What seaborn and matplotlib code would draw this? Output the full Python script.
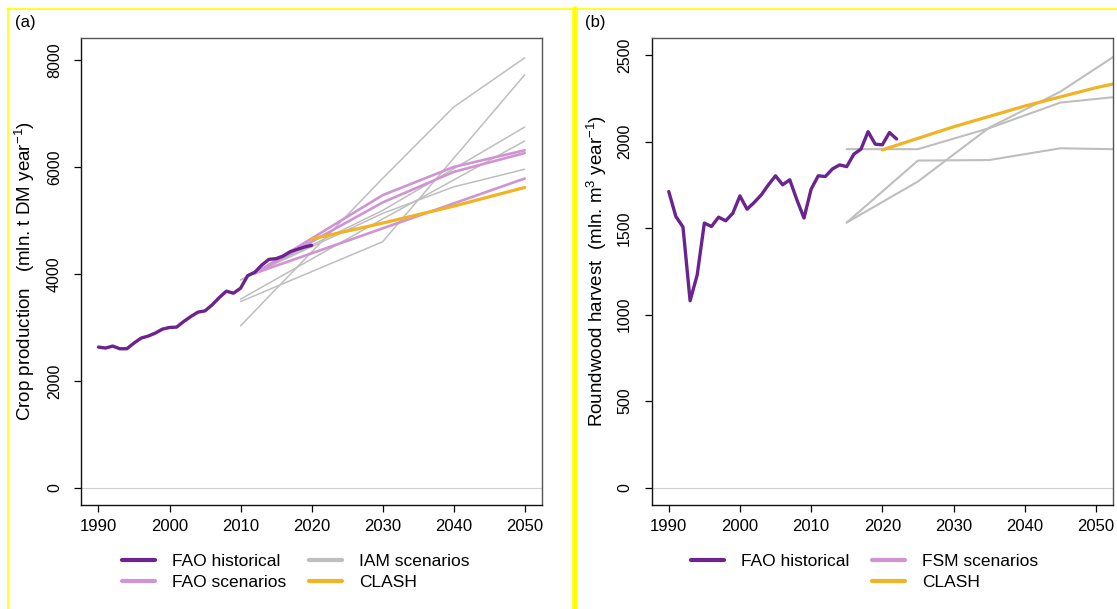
import numpy as np
import pandas as pd
import matplotlib
matplotlib.use('Agg')
import matplotlib.pyplot as plt
import seaborn as sns
from matplotlib.lines import Line2D

# --- data ---
hist_years_a = list(range(1990, 2021))
hist_crop = [2632, 2614, 2651, 2601, 2601, 2707, 2800, 2838, 2894, 2968,
             2999, 3006, 3111, 3204, 3286, 3310, 3422, 3559, 3678, 3641,
             3734, 3969, 4033, 4169, 4275, 4287, 4337, 4418, 4462, 4505, 4537]

iam_years = [2010, 2020, 2030, 2040, 2050]
iam_a = [3030, 4410, 5790, 7125, 8047]
iam_b = [3484, 4044, 4604, 6166, 7729]
iam_c = [3889, 4540, 5190, 5970, 6751]
iam_d = [3529, 4280, 5030, 5760, 6490]
iam_e = [3889, 4510, 5134, 5631, 5961]

fao_scen_years = [2012, 2020, 2030, 2040, 2050]
fao_scen_1 = [4014, 4664, 5476, 6004, 6316]
fao_scen_2 = [4014, 4603, 5340, 5911, 6265]
fao_scen_3 = [4014, 4387, 4854, 5321, 5788]

clash_years_a = [2020, 2030, 2040, 2050]
clash_crop = [4654, 4953, 5270, 5620]

hist_years_b = list(range(1990, 2023))
hist_wood = [1711, 1567, 1506, 1080, 1230, 1529, 1509, 1563, 1542, 1586,
             1686, 1609, 1648, 1692, 1750, 1802, 1750, 1779, 1663, 1558,
             1725, 1802, 1798, 1842, 1865, 1855, 1927, 1956, 2057, 1985,
             1981, 2052, 2015]

fsm_years = [2015, 2025, 2035, 2045, 2055]
fsm_1 = [1956, 1956, 2077, 2225, 2267]
fsm_2 = [1532, 1890, 1893, 1961, 1954]
fsm_3 = [1532, 1769, 2080, 2288, 2558]

clash_years_b = [2020, 2030, 2040, 2050, 2060]
clash_wood = [1952, 2085, 2205, 2311, 2400]

PURPLE = '#6B2390'
PINK = '#D094D4'
GREY = '#BEBEBE'
ORANGE = '#F0B323'
YELLOW = '#FFFF00'


def long_df(years, series):
    rows = []
    for name, vals in series.items():
        for y, v in zip(years, vals):
            rows.append({'year': y, 'value': v, 'scen': name})
    return pd.DataFrame(rows)


sns.set_style('ticks')
plt.rcParams['font.family'] = ['Liberation Sans', 'DejaVu Sans']
plt.rcParams['mathtext.fontset'] = 'custom'
plt.rcParams['mathtext.rm'] = 'Liberation Sans'
plt.rcParams['mathtext.it'] = 'Liberation Sans:italic'
plt.rcParams['text.color'] = 'black'
plt.rcParams['axes.labelcolor'] = 'black'
plt.rcParams['xtick.color'] = 'black'
plt.rcParams['ytick.color'] = 'black'

fig = plt.figure(figsize=(11.17, 6.09), dpi=100)
ax1 = fig.add_axes([0.0729, 0.1708, 0.4121, 0.7673])
ax2 = fig.add_axes([0.5834, 0.1708, 0.4130, 0.7673])

# --- panel (a) ---
ax1.axhline(0, color='#D0D0D0', lw=0.8, zorder=1)
df_iam = long_df(iam_years, {'a': iam_a, 'b': iam_b, 'c': iam_c, 'd': iam_d, 'e': iam_e})
sns.lineplot(data=df_iam, x='year', y='value', units='scen', estimator=None,
             color=GREY, lw=1.1, ax=ax1, legend=False)
df_fao = long_df(fao_scen_years, {'1': fao_scen_1, '2': fao_scen_2, '3': fao_scen_3})
sns.lineplot(data=df_fao, x='year', y='value', units='scen', estimator=None,
             color=PINK, lw=1.9, ax=ax1, legend=False)
sns.lineplot(x=clash_years_a, y=clash_crop, color=ORANGE, lw=2.3, ax=ax1)
sns.lineplot(x=hist_years_a, y=hist_crop, color=PURPLE, lw=2.4, ax=ax1)
ax1.set_ylim(-324, 8424)
ax1.set_yticks([0, 2000, 4000, 6000, 8000])
ax1.set_ylabel('Crop production   (mln. t DM year$^{-1}$)', fontsize=13.5)
ax1.yaxis.set_label_coords(-0.097, 0.5)

# --- panel (b) ---
ax2.axhline(0, color='#D0D0D0', lw=0.8, zorder=1)
df_fsm = long_df(fsm_years, {'1': fsm_1, '2': fsm_2, '3': fsm_3})
sns.lineplot(data=df_fsm, x='year', y='value', units='scen', estimator=None,
             color=GREY, lw=1.5, ax=ax2, legend=False)
sns.lineplot(x=clash_years_b, y=clash_wood, color=ORANGE, lw=2.3, ax=ax2)
sns.lineplot(x=hist_years_b, y=hist_wood, color=PURPLE, lw=2.4, ax=ax2)
ax2.set_ylim(-100, 2600)
ax2.set_yticks([0, 500, 1000, 1500, 2000, 2500])
ax2.set_ylabel('Roundwood harvest  (mln. m$^3$ year$^{-1}$)', fontsize=13.5)
ax2.yaxis.set_label_coords(-0.092, 0.5)

for ax in (ax1, ax2):
    ax.set_xlim(1987.6, 2052.4)
    ax.set_xticks(range(1990, 2051, 10))
    ax.set_xlabel('')
    ax.tick_params(axis='x', labelsize=12, length=5, width=0.9, pad=5)
    ax.tick_params(axis='y', labelsize=11.5, length=5, width=0.9, pad=9, labelrotation=90)
    plt.setp(ax.get_yticklabels(), va='center')
    for side in ('left', 'bottom'):
        ax.spines[side].set_color('#111111')
        ax.spines[side].set_linewidth(1.0)
    for side in ('top', 'right'):
        ax.spines[side].set_color('#555555')
        ax.spines[side].set_linewidth(1.0)

# --- legends ---
def handle(c):
    return Line2D([], [], color=c, lw=3)

blank = Line2D([], [], color='none')
leg_kw = dict(frameon=False, ncol=2, fontsize=12.5, handlelength=1.9, handletextpad=0.98,
              labelspacing=0.35, borderpad=0, borderaxespad=0, loc='upper left',
              columnspacing=1.3, bbox_transform=fig.transFigure)
fig.legend([handle(PURPLE), handle(PINK), handle(GREY), handle(ORANGE)],
           ['FAO historical', 'FAO scenarios', 'IAM scenarios', 'CLASH'],
           bbox_to_anchor=(122 / 1117, 1 - 554 / 609), **leg_kw)
fig.legend([handle(PURPLE), blank, handle(PINK), handle(ORANGE)],
           ['FAO historical', ' ', 'FSM scenarios', 'CLASH'],
           bbox_to_anchor=(691 / 1117, 1 - 554 / 609), **leg_kw)

# --- panel letters and yellow frame ---
fig.text(15 / 1117, 1 - 22 / 609, '(a)', fontsize=12, va='center', ha='left')
fig.text(585 / 1117, 1 - 22 / 609, '(b)', fontsize=12, va='center', ha='left')
fig.add_artist(Line2D([7 / 1117, 1], [1 - 9 / 609, 1 - 9 / 609], color=YELLOW, lw=1.2,
                      transform=fig.transFigure))
fig.add_artist(Line2D([8 / 1117, 8 / 1117], [0, 1 - 9 / 609], color=YELLOW, lw=1.2,
                      transform=fig.transFigure))
fig.add_artist(Line2D([574.7 / 1117, 574.7 / 1117], [0, 1 - 9 / 609], color=YELLOW, lw=4,
                      transform=fig.transFigure))

fig.savefig('out.png', dpi=100)
